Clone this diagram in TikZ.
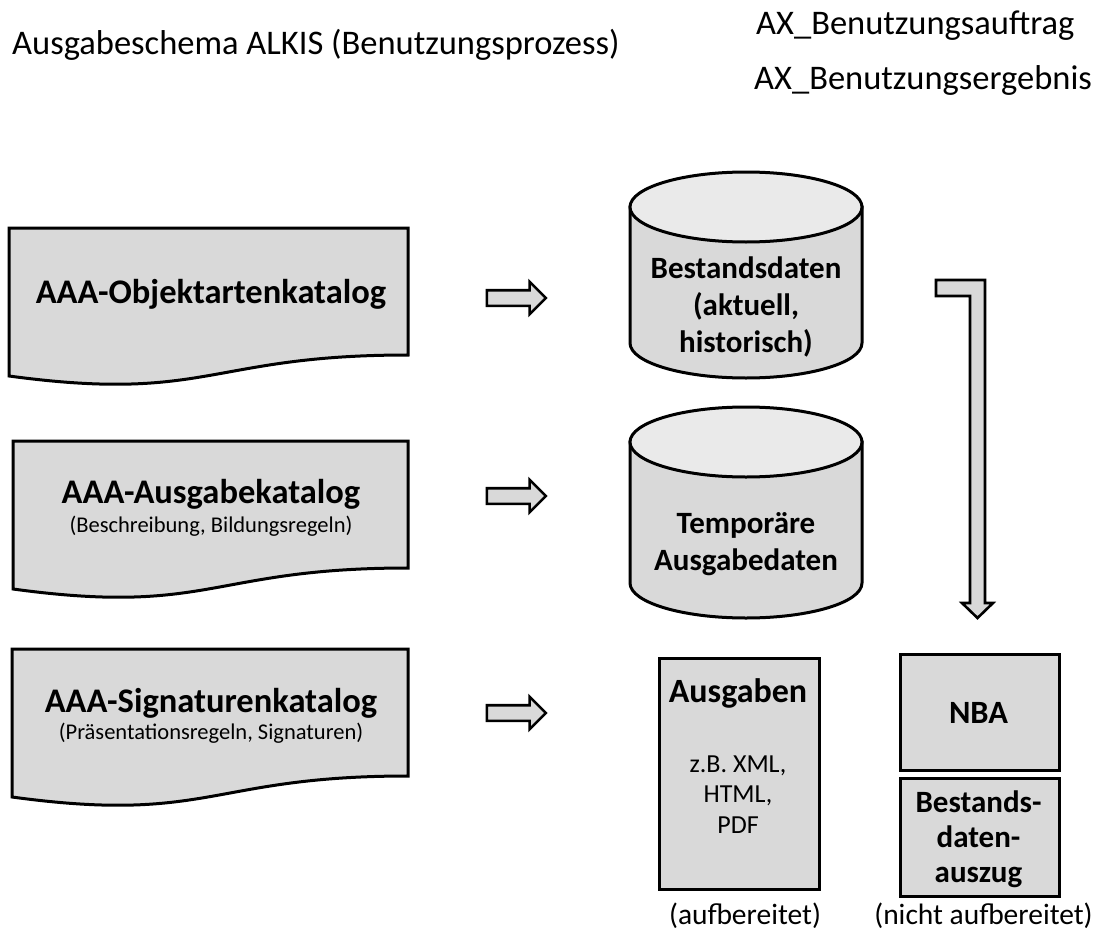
\documentclass[tikz,border=0pt]{standalone}
\usepackage{fontspec}
\setmainfont{Carlito}
\usetikzlibrary{shapes.arrows}

\definecolor{fuellgrau}{RGB}{217,217,217}
\definecolor{deckelgrau}{RGB}{234,234,234}

\newcommand*{\dokrechts}{408}
\newcommand*{\zylmitte}{746}
\newcommand*{\zylrx}{116}
\newcommand*{\zylry}{35}

\begin{document}
\begin{tikzpicture}
[
	x=1pt,
	y=-1pt,
	umriss/.style={draw=black,line width=3pt,fill=fuellgrau,line join=miter},
	kasten/.style={umriss,rectangle,inner sep=0pt,anchor=north west},
	blockpfeil/.style={umriss,single arrow,minimum height=59pt,minimum width=30pt,inner sep=6.5pt,single arrow head extend=8.5pt,line width=2.6pt},
	ueberschrift/.style={font=\fontsize{34.5}{40}\selectfont,inner sep=0pt},
	fett/.style={font=\fontsize{31}{37}\selectfont\bfseries,align=center,inner sep=0pt,anchor=base},
	katalog/.style={fett,font=\fontsize{34.5}{40}\selectfont\bfseries},
	klein/.style={font=\fontsize{22.5}{27}\selectfont,inner sep=0pt,anchor=base},
	normal/.style={font=\fontsize{29.5}{34}\selectfont,inner sep=0pt,anchor=base}
]

	\useasboundingbox (0,0) rectangle (1104,934);

	% titles
	\node[ueberschrift,anchor=base west] (titel) at (12,55) {Ausgabeschema ALKIS (Benutzungsprozess)};
	\node[ueberschrift,anchor=base west] (auftrag) at (756,35) {AX\_Benutzungsauftrag};
	\node[ueberschrift,anchor=base west] (ergebnis) at (754,89) {AX\_Benutzungsergebnis};

	% catalogues
	\foreach \links/\oben in {9/228,13/441,12/649}
	{
		\draw[umriss] (\links,\oben) -- (\dokrechts,\oben) -- (\dokrechts,\oben+127)
			.. controls ({(\links+\dokrechts)/2},\oben+127) and ({(\links+\dokrechts)/2},\oben+175) .. (\links,\oben+148) -- cycle;
	}
	\node[katalog] (objkat) at (211,303) {AAA-Objektartenkatalog};
	\node[katalog] (ausgkat) at (211,503) {AAA-Ausgabekatalog};
	\node[klein] (ausgkat-text) at (211,532) {(Beschreibung, Bildungsregeln)};
	\node[katalog] (sigkat) at (211,712) {AAA-Signaturenkatalog};
	\node[klein] (sigkat-text) at (211,739) {(Präsentationsregeln, Signaturen)};

	% arrows
	\node[blockpfeil] (pfeil1) at (512.5,298) {};
	\node[blockpfeil] (pfeil2) at (512.5,496) {};
	\node[blockpfeil] (pfeil3) at (512.5,713) {};

	% databases
	\foreach \oben/\unten in {207/343,442/583}
	{
		\draw[umriss] (\zylmitte-\zylrx,\oben) -- (\zylmitte-\zylrx,\unten)
			arc[start angle=180,end angle=0,x radius=\zylrx,y radius=\zylry] -- (\zylmitte+\zylrx,\oben) -- cycle;
		\draw[umriss,fill=deckelgrau] (\zylmitte,\oben) ellipse[x radius=\zylrx,y radius=\zylry];
	}
	\node[fett] (bestand) at (\zylmitte,352) {Bestandsdaten\\(aktuell,\\historisch)};
	\node[fett] (temp) at (\zylmitte,570) {Temporäre\\Ausgabedaten};

	% bent arrow
	\draw[umriss,line width=2.6pt] (936,280) -- (985,280) -- (985,603) -- (993,603) -- (977.5,618)
		-- (962,603) -- (970,603) -- (970,296) -- (936,296) -- cycle;

	% results
	\node[kasten,minimum width=160pt,minimum height=231pt] (ausgaben) at (658,657) {};
	\node[fett,font=\fontsize{34}{40}\selectfont\bfseries] (ausgaben-titel) at (738,702) {Ausgaben};
	\node[normal,font=\fontsize{26}{30.5}\selectfont,align=center] (formate) at (738,833) {z.B. XML,\\HTML,\\PDF};
	\node[kasten,minimum width=159pt,minimum height=116pt] (nba) at (899,653) {};
	\node[fett,font=\fontsize{32.5}{37}\selectfont\bfseries] (nba-text) at (978.5,723) {NBA};
	\node[kasten,minimum width=159pt,minimum height=118pt] (auszug) at (899,777) {};
	\node[fett,font=\fontsize{31}{35}\selectfont\bfseries] (auszug-text) at (978.5,882) {Bestands-\\daten-\\auszug};

	\node[normal] (aufb) at (745,924) {(aufbereitet)};
	\node[normal] (nichtaufb) at (983.5,924) {(nicht aufbereitet)};

\end{tikzpicture}
\end{document}
